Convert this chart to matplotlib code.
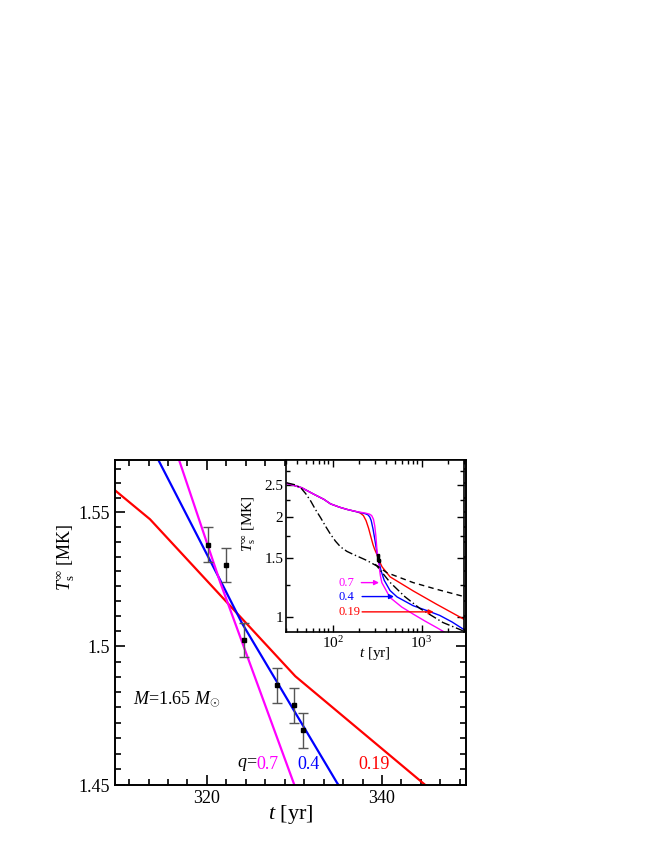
import matplotlib
matplotlib.use('Agg')
import matplotlib.pyplot as plt
from matplotlib.ticker import FixedLocator, FixedFormatter, NullFormatter, MultipleLocator, LogLocator
import numpy as np

plt.rcParams['font.family'] = ['Liberation Serif', 'DejaVu Serif']
plt.rcParams['mathtext.fontset'] = 'custom'
plt.rcParams['mathtext.rm'] = 'Liberation Serif'
plt.rcParams['mathtext.it'] = 'Liberation Serif:italic'

# observed points (t in yr, T in MK)
obsT = [320.1, 322.2, 324.25, 328.0, 330.0, 331.0]
obsTemp = [1.5378, 1.5301, 1.5024, 1.4858, 1.4785, 1.4695]
obsErr = [0.0066, 0.0063, 0.0063, 0.0063, 0.0063, 0.0063]

# main panel model curves
tRed = [309.5, 313.5, 330.1, 344.95, 352.0]
TRed = [1.5584, 1.5474, 1.4891, 1.4500, 1.4318]
tBlue = [314.47, 321.52, 324.0, 334.86, 340.0]
TBlue = [1.5699, 1.5245, 1.5086, 1.4508, 1.428]
tMag = [316.83, 321.52, 329.9, 332.0]
TMag = [1.5699, 1.5237, 1.4508, 1.433]

# inset curves
tInBlue = [30, 45, 62, 80, 95, 120, 146, 188, 233, 250, 262, 272, 285, 300, 314.5, 321.5, 324, 335, 350, 380, 443, 531, 806, 1200, 1600, 2200, 3000]
TInBlue = [2.53, 2.45, 2.34, 2.26, 2.19, 2.14, 2.107, 2.073, 2.046, 2.03, 2.0, 1.95, 1.84, 1.70, 1.57, 1.5245, 1.5086, 1.45, 1.38, 1.29, 1.20, 1.148, 1.08, 1.04, 1.01, 0.965, 0.915]
tInMag = [30, 45, 62, 80, 95, 120, 146, 188, 233, 260, 275, 288, 298, 307, 316.8, 321.5, 329.9, 345, 358, 443, 600, 806, 1100, 1469, 1800, 2500]
TInMag = [2.53, 2.45, 2.34, 2.26, 2.19, 2.14, 2.107, 2.075, 2.055, 2.04, 2.02, 1.97, 1.88, 1.75, 1.57, 1.5237, 1.45, 1.33, 1.268, 1.143, 1.07, 1.019, 0.97, 0.929, 0.90, 0.86]
tInRed = [30, 45, 62, 80, 95, 120, 146, 188, 205, 222, 238, 254, 270, 285, 298, 309.5, 313.5, 330.1, 344.95, 360, 443, 806, 1469, 3000]
TInRed = [2.53, 2.45, 2.34, 2.26, 2.19, 2.14, 2.107, 2.073, 2.055, 2.02, 1.95, 1.85, 1.74, 1.65, 1.595, 1.5584, 1.5474, 1.4891, 1.45, 1.415, 1.32, 1.197, 1.092, 0.983]
tDashDot = [30.7, 38, 44, 50, 56.9, 64, 73.5, 84, 95, 108, 123, 145, 173, 210, 244, 315, 443, 650, 957, 1742, 2910]
TDashDot = [2.534, 2.50, 2.448, 2.35, 2.233, 2.11, 1.989, 1.87, 1.773, 1.69, 1.625, 1.575, 1.54, 1.505, 1.478, 1.423, 1.27, 1.15, 1.06, 0.961, 0.908]
tDashed = [300, 407, 806, 1469, 3000]
TDashed = [1.44, 1.359, 1.268, 1.211, 1.151]

fig = plt.figure(figsize=(6.64, 8.6), dpi=100)
ax = fig.add_axes([115/664, 1-785/860, 351/664, 325/860])

ax.plot(tRed, TRed, color='#ff0000', lw=1.6)
ax.plot(tBlue, TBlue, color='#0000ff', lw=1.6)
ax.plot(tMag, TMag, color='#ff00ff', lw=1.6)
ax.errorbar(obsT, obsTemp, yerr=obsErr, fmt='s', color='black', ms=3.5,
            ecolor='#555555', elinewidth=1.0, capsize=3.5, capthick=1.0)

ax.set_xlim(309.5, 349.6)
ax.set_yscale('log')
ax.set_ylim(1.45, 1.57)
ax.xaxis.set_major_locator(FixedLocator([320, 340]))
ax.xaxis.set_minor_locator(MultipleLocator(20/9))
ax.yaxis.set_major_locator(FixedLocator([1.45, 1.5, 1.55]))
ax.yaxis.set_major_formatter(FixedFormatter(['1.45', '1.5', '1.55']))
ax.yaxis.set_minor_locator(FixedLocator(np.linspace(1.45, 1.6, 28)))
ax.yaxis.set_minor_formatter(NullFormatter())
ax.tick_params(which='both', direction='in', top=True, right=True, labelsize=13, width=1.2)
ax.tick_params(which='major', length=7)
ax.tick_params(which='minor', length=4)
for s in ax.spines.values():
    s.set_linewidth(1.4)

ax.set_xlabel(r'$t$ [yr]', fontsize=16)
ax.xaxis.set_label_coords(0.5, -0.055)
ax.set_ylabel(r'$T^{\infty}_{\rm s}$ [MK]', fontsize=13)
ax.yaxis.set_label_coords(-0.108, 0.70)

ax.text(311.5, 1.4806, r'$M$=1.65 $M_{\odot}$', fontsize=13, va='center', ha='left')
ax.text(325.7, 1.4573, r'$q$=', fontsize=13, va='center', ha='right')
ax.text(325.7, 1.4573, '0.7', fontsize=13, va='center', ha='left', color='#ff00ff')
ax.text(330.3, 1.4573, '0.4', fontsize=13, va='center', ha='left', color='#0000ff')
ax.text(337.3, 1.4573, '0.19', fontsize=13, va='center', ha='left', color='#ff0000')

# inset
axin = fig.add_axes([286/664, 1-632/860, 178/664, 172/860])
axin.plot(tInRed, TInRed, color='#ff0000', lw=1.0)
axin.plot(tInBlue, TInBlue, color='#0000ff', lw=1.0)
axin.plot(tInMag, TInMag, color='#ff00ff', lw=1.0)
axin.plot(tDashDot, TDashDot, color='black', lw=1.0, ls=(0, (6, 2, 1, 2)))
axin.plot(tDashed, TDashed, color='black', lw=1.0, ls=(0, (4, 3)))
axin.errorbar(obsT, obsTemp, yerr=obsErr, fmt='s', color='black', ms=1.5,
              ecolor='black', elinewidth=0.8, capsize=0)

axin.set_xscale('log')
axin.set_yscale('log')
axin.set_xlim(30, 3000)
axin.set_ylim(0.9, 2.97)
axin.yaxis.set_major_locator(FixedLocator([1, 1.5, 2, 2.5]))
axin.yaxis.set_major_formatter(FixedFormatter(['1', '1.5', '2', '2.5']))
axin.yaxis.set_minor_locator(FixedLocator([1.25, 1.75, 2.25, 2.75]))
axin.yaxis.set_minor_formatter(NullFormatter())
axin.xaxis.set_major_locator(FixedLocator([100, 1000]))
axin.xaxis.set_minor_locator(LogLocator(base=10, subs=np.arange(2, 10)))
axin.xaxis.set_minor_formatter(NullFormatter())
axin.tick_params(which='both', direction='in', top=True, right=True, labelsize=11, width=1.0, pad=2)
axin.tick_params(which='major', length=5)
axin.tick_params(which='minor', length=3)
for s in axin.spines.values():
    s.set_linewidth(1.2)
axin.set_xlabel(r'$t$ [yr]', fontsize=11)
axin.xaxis.set_label_coords(0.5, -0.075)
axin.set_ylabel(r'$T^{\infty}_{\rm s}$ [MK]', fontsize=11)
axin.yaxis.set_label_coords(-0.16, 0.63)

arrowLabels = ['0.7', '0.4', '0.19']
arrowColors = ['#ff00ff', '#0000ff', '#ff0000']
arrowY = [1.268, 1.151, 1.035]
arrowStart = [196, 200, 200]
arrowEnd = [358, 527, 1469]
for lab, col, yv, x0, x1 in zip(arrowLabels, arrowColors, arrowY, arrowStart, arrowEnd):
    axin.text(116, yv, lab, fontsize=9, color=col, va='center', ha='left')
    axin.annotate('', xy=(x1, yv), xytext=(x0, yv),
                  arrowprops=dict(arrowstyle='-|>', color=col, lw=1.0, mutation_scale=7))

plt.savefig('out.png', dpi=100)
